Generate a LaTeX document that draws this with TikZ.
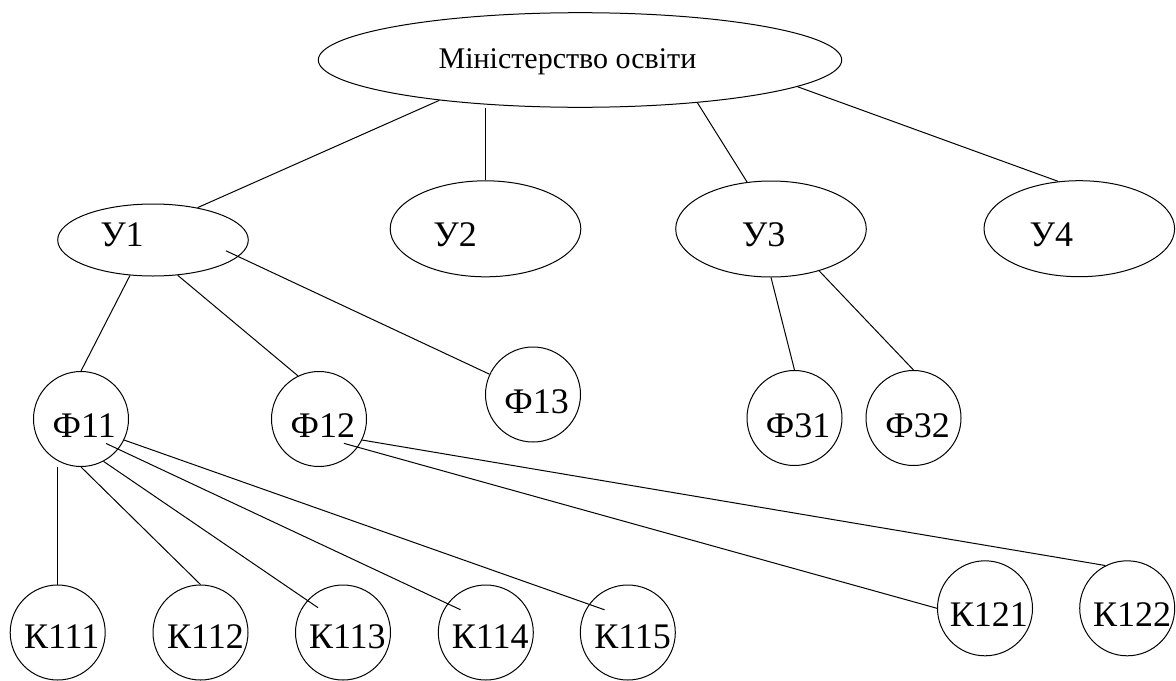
\documentclass[tikz,border=0pt]{standalone}
\usepackage{fontspec}
\setmainfont{Liberation Serif}
\usetikzlibrary{shapes.geometric}

\tikzset{
  org/.style={draw, ellipse, inner sep=0pt, minimum width=95.3pt, minimum height=48pt},
  dep/.style={draw, circle, inner sep=0pt, minimum size=47.5pt},
  txt/.style n args={3}{label={[inner sep=0pt, xshift=#1, yshift=#2]center:#3}},
}

\begin{document}
\begin{tikzpicture}[x=0.5pt, y=-0.5pt, line width=0.5pt, font=\fontsize{18pt}{20pt}\selectfont]
\useasboundingbox (0,0) rectangle (1176,680);

% ministry and universities
\node[org, minimum width=261.7pt, minimum height=47.3pt,
  label={[inner sep=0pt, font=\fontsize{15pt}{17pt}\selectfont, xshift=-6.25pt, yshift=-0.85pt]center:Міністерство освіти}] (min) at (580,60) {};
\node[org, minimum height=36pt, txt={-15.5pt}{2.75pt}{У1}] (u1) at (153,240) {};
\node[org, txt={-15.25pt}{-3pt}{У2}] (u2) at (485.5,228.8) {};
\node[org, txt={-3.75pt}{-3pt}{У3}] (u3) at (771,229) {};
\node[org, txt={-14pt}{-3pt}{У4}] (u4) at (1079.3,228.7) {};

% faculties
\node[dep, txt={1.6pt}{-3.25pt}{Ф11}] (f11) at (81,419) {};
\node[dep, txt={1.9pt}{-3.25pt}{Ф12}] (f12) at (319,419) {};
\node[dep, txt={1.8pt}{-3.6pt}{Ф13}] (f13) at (533,394.5) {};
\node[dep, txt={1.8pt}{-3.8pt}{Ф31}] (f31) at (794.5,418) {};
\node[dep, txt={2.1pt}{-3.8pt}{Ф32}] (f32) at (913.5,418) {};

% chairs
\node[dep, txt={2pt}{-2.1pt}{К111}] (k111) at (57.7,632.5) {};
\node[dep, txt={2.5pt}{-2.1pt}{К112}] (k112) at (200.5,632.5) {};
\node[dep, txt={2.2pt}{-2.1pt}{К113}] (k113) at (343,632.5) {};
\node[dep, txt={2.2pt}{-2.1pt}{К114}] (k114) at (485.8,632.5) {};
\node[dep, txt={2.4pt}{-2.1pt}{К115}] (k115) at (627.8,632.5) {};
\node[dep, txt={1.9pt}{-2.9pt}{К121}] (k121) at (985,608.3) {};
\node[dep, txt={2.5pt}{-2.9pt}{К122}] (k122) at (1127.2,608.3) {};

\draw (min.196) -- (u1.36);
\draw (min.south -| u2.north) -- (u2.north);
\draw (min.340) -- (u3.117);
\draw (min.353) -- (u4.114);

\draw (u1.237) -- (f11.90);
\draw (u1.305) -- (f12.116);
\draw[shorten <=-6.75pt] (u1.349) -- (f13.155);
\draw (u3.south) -- (f31.north);
\draw (u3.319) -- (f32.north);

\draw (f11.south -| k111.north) -- (k111.north);
\draw (f11.south) -- (k112.north);
\draw[shorten >=-6.45pt] (f11.298) -- (k113.138);
\draw[shorten <=-6.8pt, shorten >=-7.25pt] (f11.321) -- (k114.143);
\draw[shorten >=-8.3pt] (f11.334) -- (k115.144);
\draw[shorten <=-7.2pt] (f12.324) -- (k121.west);
\draw (f12.334) -- (k122.117);

\end{tikzpicture}
\end{document}
